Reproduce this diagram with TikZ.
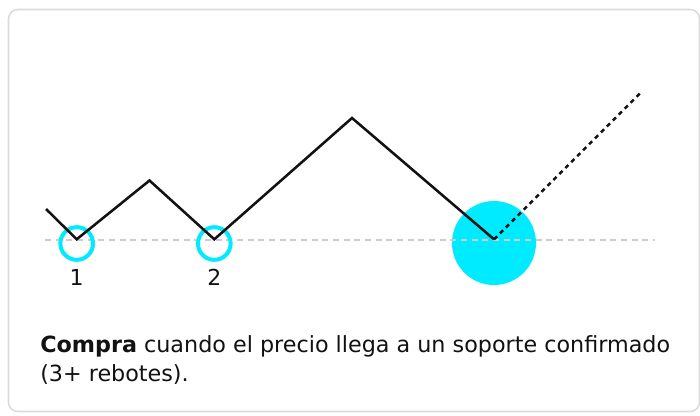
\documentclass[tikz,border=0pt]{standalone}
\usepackage{fontspec}
\setmainfont{DejaVu Sans}
\usetikzlibrary{calc}

\begin{document}
\begin{tikzpicture}[x=0.75pt,y=-0.75pt]
\definecolor{mycolorDCDCDC}{rgb}{0.86,0.86,0.86}
\definecolor{mycolorCCCCCC}{rgb}{0.8,0.8,0.8}
\definecolor{mycolor00EBFF}{rgb}{0,0.92,1}
\definecolor{mycolor111111}{rgb}{0.07,0.07,0.07}
\useasboundingbox (0,0) rectangle (700,415);
\begin{scope}
\clip (0,0) rectangle (700,415);
\path [fill=white,draw=mycolorDCDCDC,line width=0.4mm,rounded corners=7pt] (8.5,9.5) rectangle (699.5,411.5);
\end{scope}
\begin{scope}
\coordinate (p0) at (46,209);
\coordinate (b1) at (76.7,239.3);
\coordinate (t1) at (149.5,180.5);
\coordinate (b2) at (214.3,239.3);
\coordinate (t2) at (352,118);
\coordinate (b3) at (494,239.3);
\coordinate (tgt) at (640,93.3);
\coordinate (s0) at (45,239.5);
\coordinate (s1) at (655,239.5);
\end{scope}
\begin{scope}
\node (hit) [circle,fill=mycolor00EBFF,inner sep=0,minimum size=63pt] at (494,243) {};
\end{scope}
\begin{scope}
[dash pattern=on 4.5pt off 3.5pt,line width=1.5pt]
\path [draw=mycolorCCCCCC] (s0) -- (s1);
\end{scope}
\begin{scope}
\node (ring1) [circle,draw=mycolor00EBFF,line width=3pt,inner sep=0,minimum size=24.5pt] at (76.7,243.5) {};
\node (ring2) [circle,draw=mycolor00EBFF,line width=3pt,inner sep=0,minimum size=24.5pt] at (214.3,243.5) {};
\end{scope}
\begin{scope}
[line width=1.9pt]
\path [draw=mycolor111111] (p0) -- (b1) -- (t1) -- (b2) -- (t2) -- (b3);
\path [draw=mycolor111111,dash pattern=on 3.3pt off 3pt] (b3) -- (tgt);
\end{scope}
\begin{scope}
% \fontspec{DejaVu Sans}
\node (lab1) [text=mycolor111111,inner sep=0.0] at (76.5,277) {\fontsize{16.5pt}{19pt}\selectfont 1};
\node (lab2) [text=mycolor111111,inner sep=0.0] at (214.3,277) {\fontsize{16.5pt}{19pt}\selectfont 2};
\end{scope}
\begin{scope}
% \fontspec{DejaVu Sans}
\node (cap1) [text=mycolor111111,anchor=base west,inner sep=0.0] at (40,352) {\fontsize{16.7pt}{21.75pt}\selectfont \textbf{Compra} cuando el precio llega a un soporte confirmado};
\node (cap2) [text=mycolor111111,anchor=base west,inner sep=0.0] at (40,381) {\fontsize{16.7pt}{21.75pt}\selectfont (3+ rebotes).};
\end{scope}
\end{tikzpicture}
\end{document}
